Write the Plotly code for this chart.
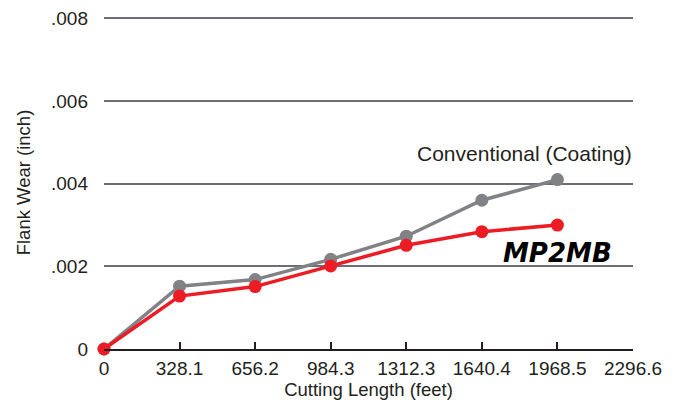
import plotly.graph_objects as go

cutting_length = [0, 328.1, 656.2, 984.3, 1312.3, 1640.4, 1968.5]
conventional = [0.0, 0.00152, 0.00168, 0.00217, 0.00273, 0.00360, 0.00410]
mp2mb = [0.0, 0.00128, 0.00151, 0.00201, 0.00251, 0.00284, 0.00300]
x_ticks = [0, 328.1, 656.2, 984.3, 1312.3, 1640.4, 1968.5, 2296.6]
x_tick_labels = ["0", "328.1", "656.2", "984.3", "1312.3", "1640.4", "1968.5", "2296.6"]
y_ticks = [0, 0.002, 0.004, 0.006, 0.008]
y_tick_labels = ["0", ".002", ".004", ".006", ".008"]

GRAY = "#808285"
RED = "#ed1c24"
TXT = "#231f20"
FONT = "Liberation Sans, Arial, sans-serif"

fig = go.Figure()
fig.add_trace(go.Scatter(x=cutting_length, y=conventional, mode="lines+markers",
                         line=dict(color=GRAY, width=3.5), marker=dict(color=GRAY, size=13),
                         cliponaxis=False, name="Conventional (Coating)"))
fig.add_trace(go.Scatter(x=cutting_length, y=mp2mb, mode="lines+markers",
                         line=dict(color=RED, width=3.5), marker=dict(color=RED, size=13),
                         cliponaxis=False, name="MP2MB"))

fig.add_annotation(x=1968.5, y=conventional[-1], xref="x", yref="y", text="Conventional (Coating)",
                   showarrow=False, xanchor="center", yanchor="middle", xshift=-33, yshift=26,
                   font=dict(family=FONT, size=21, color=TXT))
fig.add_annotation(x=1968.5, y=mp2mb[-1], xref="x", yref="y", text="<b><i>MP2MB</i></b>",
                   showarrow=False, xanchor="center", yanchor="middle", xshift=0, yshift=-28,
                   font=dict(family="DejaVu Sans, sans-serif", size=26, color="#000000"))

fig.update_layout(
    width=678, height=404,
    margin=dict(l=96, r=53, t=7.5, b=63),
    paper_bgcolor="white", plot_bgcolor="white",
    showlegend=False,
    font=dict(family=FONT, color=TXT),
    xaxis=dict(range=[0, 2296.6], tickvals=x_ticks, ticktext=x_tick_labels, automargin=False,
               showgrid=False, zeroline=False, showline=True, linecolor=TXT, linewidth=1.5,
               ticks="inside", ticklen=7, tickwidth=1.5, tickcolor=TXT,
               tickfont=dict(size=19, color=TXT), ticklabelstandoff=1,
               title=dict(text="Cutting Length (feet)", font=dict(size=18.5, color=TXT), standoff=2)),
    yaxis=dict(range=[0, 0.00806], tickvals=y_ticks, ticktext=y_tick_labels, automargin=False,
               showgrid=True, gridcolor="#6d6e71", gridwidth=1.5, zeroline=False,
               showline=False, ticks="", tickfont=dict(size=19, color=TXT), ticklabelstandoff=15,
               title=dict(text="Flank Wear (inch)", font=dict(size=18.5, color=TXT), standoff=15)),
)

fig.write_html("out.html")
